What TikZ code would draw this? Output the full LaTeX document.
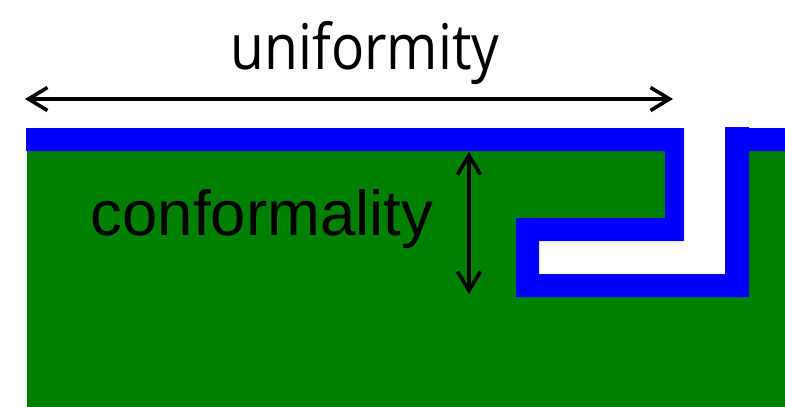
\documentclass[tikz,border=0pt]{standalone}
\usepackage{fontspec}
\setmainfont{Liberation Sans}
\newfontfamily\unifont{Open Sans}
\usetikzlibrary{arrows.meta}
\definecolor{layerblue}{RGB}{0,0,255}
\definecolor{subgreen}{RGB}{0,128,0}
\begin{document}
\begin{tikzpicture}[x=1pt,y=-1pt,
  dimarrow/.style={line width=3.6pt,{Straight Barb[length=19pt,width=23pt,line width=3.6pt]}-{Straight Barb[length=19pt,width=23pt,line width=3.6pt]}},
  bigtext/.style={inner sep=0pt,anchor=base,font=\fontsize{63.5}{70}\selectfont}]
\useasboundingbox (0,0) rectangle (785,407);
% substrate
\fill[subgreen] (27,151) rectangle (785,407);
% white cavity
\fill[white] (684,128) rectangle (725,274);
\fill[white] (539,241) rectangle (725,274);
% conformal blue layer
\fill[layerblue] (26,128) -- (684,128) -- (684,241) -- (539,241) -- (539,274)
  -- (725,274) -- (725,127) -- (749,127) -- (749,128) -- (785,128) -- (785,151)
  -- (749,151) -- (749,297) -- (516,297) -- (516,218) -- (665,218) -- (665,151)
  -- (26,151) -- cycle;
% labels
\node[bigtext,font=\unifont\fontsize{63}{70}\selectfont] (uni) at (365,69) {\scalebox{0.875}[1]{uniformity}};
\node[bigtext] (conf) at (262,235) {conformality};
% arrows
\coordinate (hl) at (25,99);
\coordinate (hr) at (673,99);
\coordinate (vt) at (469,152);
\coordinate (vb) at (469,294);
\draw[dimarrow] (hl) -- (hr);
\draw[dimarrow] (vt) -- (vb);
\end{tikzpicture}
\end{document}
